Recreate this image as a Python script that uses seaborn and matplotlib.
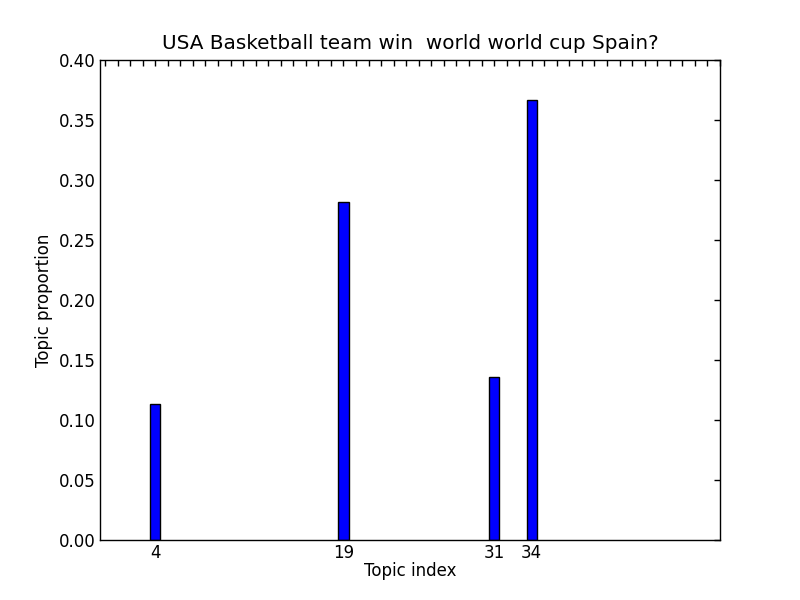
import numpy as np
import pandas as pd
import seaborn as sns
import matplotlib
matplotlib.use('Agg')
import matplotlib.pyplot as plt

# ---- Dados
n_topics = 50
topic_ids = [4, 19, 31, 34]
topic_props = [0.113, 0.282, 0.136, 0.367]
title = 'USA Basketball team win  world world cup Spain?'

props = np.zeros(n_topics)
props[topic_ids] = topic_props
df = pd.DataFrame({'topic': np.arange(n_topics), 'prop': props})

# ---- Estilo
sns.set_style('white')
plt.rcParams['font.family'] = ['DejaVu Sans']
plt.rcParams.update({
    'font.size': 12,
    'text.color': 'black', 'axes.labelcolor': 'black',
    'xtick.direction': 'in', 'ytick.direction': 'in',
    'xtick.top': True, 'ytick.right': True,
    'xtick.color': 'black', 'ytick.color': 'black',
    'axes.edgecolor': 'black', 'axes.linewidth': 1.0,
})

fig = plt.figure(figsize=(8, 6), dpi=100)
ax = fig.add_axes([0.125, 0.1, 0.775, 0.8])
sns.barplot(data=df, x='topic', y='prop', color='blue', saturation=1,
            edgecolor='black', linewidth=1, width=0.8, ax=ax)

# barras com altura zero nao devem desenhar borda
for p in ax.patches:
    if p.get_height() == 0:
        p.set_linewidth(0)

labels = [str(i) if i in topic_ids else '' for i in range(n_topics)]
ax.set_xticks(np.arange(n_topics))
ax.set_xticklabels(labels, fontsize=12)
ax.set_xlim(-0.4, 49)
ax.set_ylim(0, 0.4)
yt = np.arange(0, 0.401, 0.05)
ax.set_yticks(yt)
ax.set_yticklabels([f'{v:.2f}' for v in yt], fontsize=12)
ax.tick_params(axis='both', which='major', length=4, width=1, pad=3)
for s in ax.spines.values():
    s.set_visible(True)
    s.set_color('black')

ax.set_title(title, fontsize=14.4, pad=8, color='black')
ax.set_xlabel('Topic index', fontsize=12, labelpad=0)
ax.set_ylabel('Topic proportion', fontsize=12)

fig.savefig('out.png', dpi=100)
